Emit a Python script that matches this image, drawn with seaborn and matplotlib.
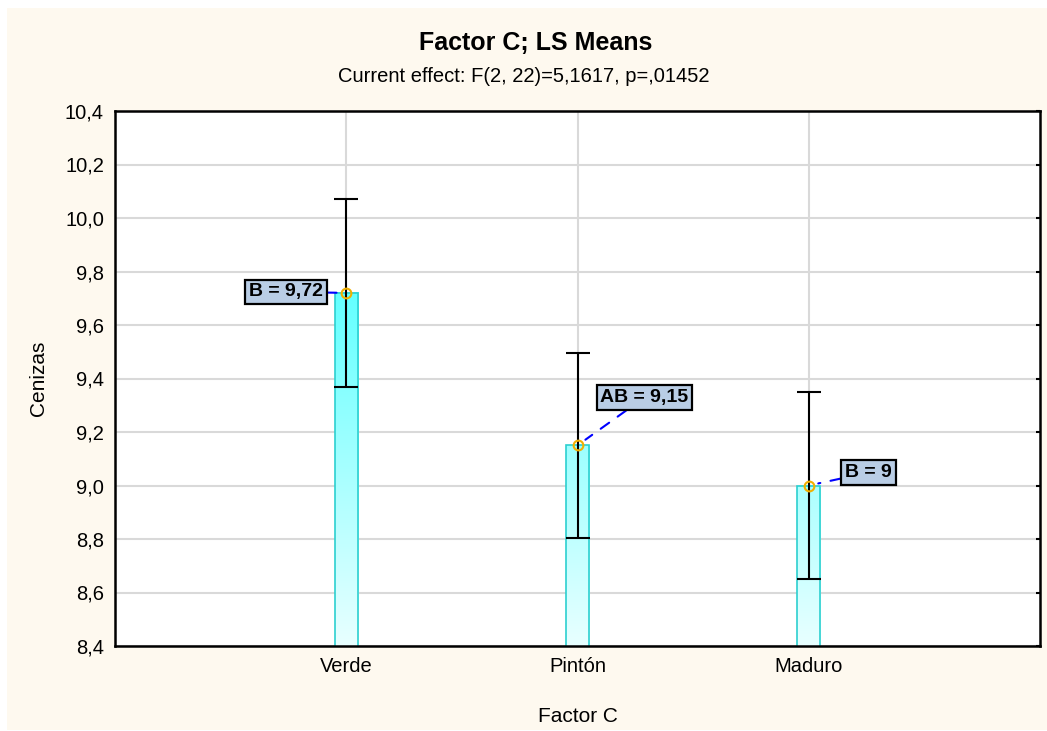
import numpy as np
import pandas as pd
import matplotlib
matplotlib.use("Agg")
import matplotlib.pyplot as plt
from matplotlib.colors import LinearSegmentedColormap, Normalize
from matplotlib.patches import Rectangle
import seaborn as sns

# ---- data ----
categories = ["Verde", "Pintón", "Maduro"]
means = [9.72, 9.15, 9.0]
half_ci = [0.35, 0.347, 0.348]
groups = ["B", "AB", "B"]
mean_labels = ["9,72", "9,15", "9"]
y_ticks = [8.4, 8.6, 8.8, 9.0, 9.2, 9.4, 9.6, 9.8, 10.0, 10.2, 10.4]
y_tick_labels = ["8,4", "8,6", "8,8", "9,0", "9,2", "9,4", "9,6", "9,8", "10,0", "10,2", "10,4"]
title = "Factor C; LS Means"
subtitle = "Current effect: F(2, 22)=5,1617, p=,01452"
x_label = "Factor C"
y_label = "Cenizas"

# ---- style ----
sns.set_style("white")
plt.rcParams["font.family"] = ["Liberation Sans", "DejaVu Sans"]
plt.rcParams["text.color"] = "black"
plt.rcParams["axes.labelcolor"] = "black"
plt.rcParams["xtick.color"] = "black"
plt.rcParams["ytick.color"] = "black"

W, H = 1047, 731
fig = plt.figure(figsize=(W / 100, H / 100), dpi=100, facecolor="white")
# cream panel behind everything
fig.patches.append(Rectangle((7 / W, 1 / H), 1 - 7 / W, 1 - 9 / H,
                             transform=fig.transFigure, facecolor="#FEF9EF",
                             edgecolor="none", zorder=-10))

ax = fig.add_axes([115 / W, 85 / H, 925 / W, 535 / H])
ax.set_zorder(5)
ax.set_facecolor("white")

df = pd.DataFrame({"factor": categories, "value": means})
sns.barplot(data=df, x="factor", y="value", order=categories, width=0.1,
            color="#A0FFFF", edgecolor="#2CCFCF", linewidth=1.2,
            errorbar=None, ax=ax, zorder=2)

ax.set_xlim(-1, 3)
ax.set_ylim(y_ticks[0], y_ticks[-1])

# vertical cyan gradient inside each bar
cmap = LinearSegmentedColormap.from_list("cyanfade", ["#E8FFFF", "#5CFFFF"])
norm = Normalize(8.4, 9.8)
ybot = ax.get_ylim()[0]
for patch in ax.patches:
    x0, w = patch.get_x(), patch.get_width()
    top = patch.get_y() + patch.get_height()
    grad = np.linspace(ybot, top, 256)[:, None]
    ax.imshow(grad, extent=[x0, x0 + w, ybot, top], origin="lower",
              cmap=cmap, norm=norm, aspect="auto", zorder=1.5,
              interpolation="bilinear")
    patch.set_facecolor("none")
    patch.set_zorder(2)

ax.set_xlim(-1, 3)
ax.set_ylim(y_ticks[0], y_ticks[-1])
ax.set_aspect("auto")

xpos = np.arange(len(categories))
ax.errorbar(xpos, means, yerr=half_ci, fmt="none", ecolor="black",
            elinewidth=1.5, capsize=8.3, capthick=1.5, zorder=3)
ax.plot(xpos, means, linestyle="none", marker="o", markersize=7,
        markerfacecolor="none", markeredgecolor="#F2B000",
        markeredgewidth=1.5, zorder=4)

# group letters with mean values
offsets = [(-60, 1), (67, 48), (60, 13)]
for x, m, g, lab, off in zip(xpos, means, groups, mean_labels, offsets):
    ax.annotate(f"{g} = {lab}", xy=(x, m), xytext=off, textcoords="offset pixels",
                ha="center", va="center", fontsize=14, fontweight="bold",
                bbox=dict(boxstyle="square,pad=0.2", fc="#B9CDE5", ec="black", lw=1.6),
                arrowprops=dict(arrowstyle="-", color="#0000FF", lw=1.5,
                                linestyle=(0, (5, 5)), shrinkA=0, shrinkB=7),
                zorder=5)

ax.set_yticks(y_ticks)
ax.set_yticklabels(y_tick_labels)
ax.set_xticks(xpos)
ax.set_xticklabels(categories)
ax.tick_params(axis="both", labelsize=14.5, direction="in", length=3, width=1.5,
               colors="black", pad=8)
ax.tick_params(axis="y", right=True)
ax.tick_params(axis="x", bottom=True)

ax.grid(True, color="#D9D9D9", linewidth=1.5)
ax.set_axisbelow(True)
for s in ax.spines.values():
    s.set_visible(True)
    s.set_color("black")
    s.set_linewidth(1.8)

ax.set_xlabel(x_label, fontsize=15, labelpad=22)
ax.set_ylabel(y_label, fontsize=15, labelpad=12)

fig.text(536 / W, 1 - 43 / H, title, ha="center", va="center",
         fontsize=18, fontweight="bold")
fig.text(0.5, 1 - 77 / H, subtitle, ha="center", va="center", fontsize=14.5)

fig.savefig("out.png", dpi=100, facecolor=fig.get_facecolor())
